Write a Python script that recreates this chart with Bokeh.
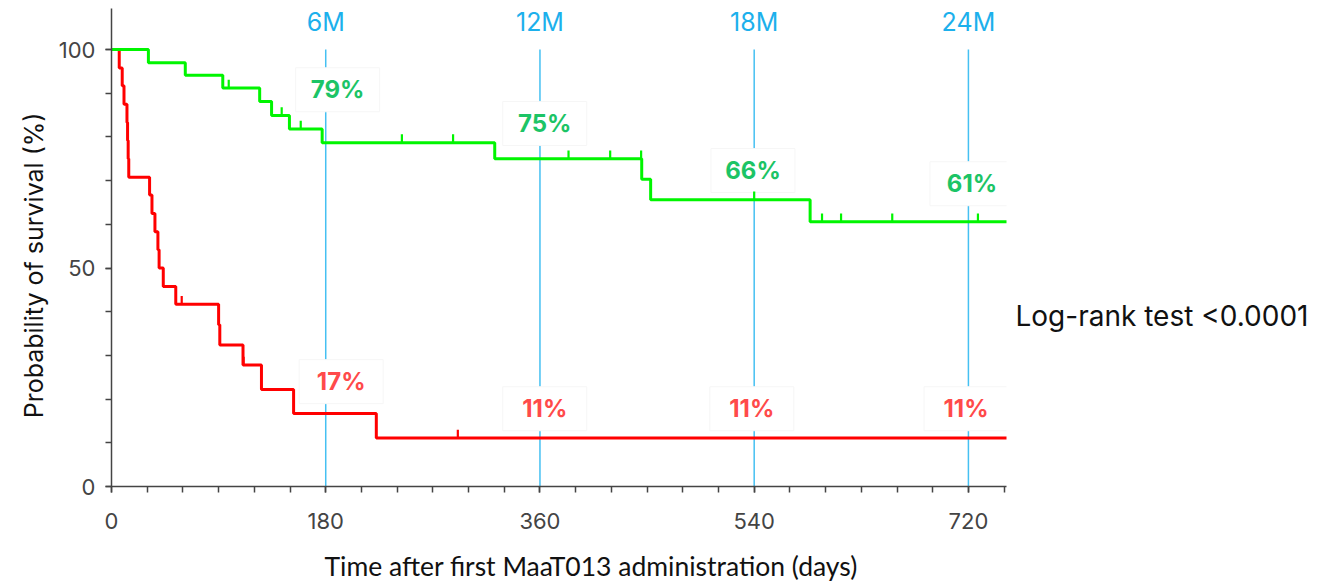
import numpy as np
from bokeh.plotting import figure
from bokeh.layouts import row, column
from bokeh.models import Range1d, FixedTicker
from bokeh.embed import file_html
from bokeh.resources import INLINE
from bokeh.core.properties import value

# ---------------- data ----------------
green_times = [0, 31, 62, 93.5, 124.5, 134.5, 149.5, 177, 322, 445.5, 453, 587]
green_surv = [100, 97.0, 94.1, 91.2, 88.1, 84.9, 81.8, 78.7, 75.0, 70.3, 65.6, 60.6]
green_censor = [98.5, 143, 159, 244, 287, 384, 419, 445, 540, 597, 613, 656, 728]

red_times = [0, 6.5, 9, 10.5, 13, 13.5, 14, 14.5, 32, 34, 36.5, 39, 40, 43.5, 54,
             90, 91, 110.5, 126, 153, 222.5]
red_surv = [100, 95.8, 91.7, 87.5, 83.3, 79.2, 75.0, 70.8, 66.7, 62.5, 58.3, 54.2,
            50.0, 45.8, 41.7, 37.0, 32.4, 27.8, 22.2, 16.7, 11.1]
red_censor = [59, 111, 291]

follow_up_end = 753

milestone_days = [180, 360, 540, 720]
milestone_labels = ["6M", "12M", "18M", "24M"]
green_pct_labels = ["79%", "75%", "66%", "61%"]
red_pct_labels = ["17%", "11%", "11%", "11%"]

x_tick_values = [0, 180, 360, 540, 720]
y_tick_values = [0, 50, 100]

x_title = "Time after first MaaT013 administration (days)"
y_title = "Probability of survival (%)"
logrank_text = "Log-rank test <0.0001"

GREEN = "#00F500"
RED = "#FF0000"
BLUE = "#45C0F2"
GREEN_TXT = "#1CC466"
RED_TXT = "#FF4A4A"

H_MAIN = 542
H_XT = 42
W_YT = 50
W_MAIN = 958
W_SIDE = 308
Y_END = 109.4


def level_at(times, surv, t):
    idx = np.searchsorted(np.array(times), t, side="right") - 1
    return np.array(surv)[idx]


def bare(width, height, xr, yr):
    f = figure(width=width, height=height, output_backend="svg", toolbar_location=None,
               x_range=xr, y_range=yr, min_border=0,
               x_axis_location=None, y_axis_location=None)
    f.grid.visible = False
    f.outline_line_color = None
    return f


p = figure(width=W_MAIN, height=H_MAIN, output_backend="svg", toolbar_location=None,
           x_range=Range1d(0, 752), y_range=Range1d(0, Y_END),
           min_border_left=61, min_border_right=2, min_border_top=8,
           min_border_bottom=56)
p.xgrid.visible = False
p.ygrid.visible = False
p.outline_line_color = None
p.background_fill_color = "white"

# milestone vertical lines
p.segment(x0=milestone_days, y0=[0] * 4, x1=milestone_days, y1=[100] * 4,
          line_color=BLUE, line_width=1.5)

# white boxes behind percentage labels (cut the vertical lines)
g_lab_y = [90.8, 83.1, 72.3, 69.3]
r_lab_y = [24.0, 17.8, 17.8, 17.8]
g_lab_x = [190, 364, 539, 723]
r_lab_x = [193, 364, 538, 718]
p.rect(x=g_lab_x + r_lab_x, y=g_lab_y + r_lab_y, width=84, height=44,
       width_units="screen", height_units="screen",
       fill_color="white", line_color="#F6F6F6", line_width=1)

# survival curves
p.step(x=red_times + [follow_up_end], y=red_surv + [red_surv[-1]], mode="after",
       line_color=RED, line_width=3)
p.step(x=green_times + [follow_up_end], y=green_surv + [green_surv[-1]], mode="after",
       line_color=GREEN, line_width=3)

# censor marks
gl = [level_at(green_times, green_surv, t) for t in green_censor]
rl = [level_at(red_times, red_surv, t) for t in red_censor]
p.segment(x0=green_censor, y0=gl, x1=green_censor, y1=[v + 1.9 for v in gl],
          line_color=GREEN, line_width=2.2)
p.segment(x0=red_censor, y0=rl, x1=red_censor, y1=[v + 1.9 for v in rl],
          line_color=RED, line_width=2.2)

# percentage labels
p.text(x=g_lab_x, y=g_lab_y, text=green_pct_labels, text_font=value("Inter"),
       text_font_style="bold", text_font_size="24px", text_color=GREEN_TXT,
       text_align="center", text_baseline="middle")
p.text(x=r_lab_x, y=r_lab_y, text=red_pct_labels, text_font=value("Inter"),
       text_font_style="bold", text_font_size="24px", text_color=RED_TXT,
       text_align="center", text_baseline="middle")

# milestone labels
p.text(x=milestone_days, y=[106.2] * 4, text=milestone_labels, text_font=value("Inter"),
       text_font_size="25px", text_color="#1CB0EC", text_align="center",
       text_baseline="middle")

# axes
for ax in (p.xaxis[0], p.yaxis[0]):
    ax.axis_line_color = "#444444"
    ax.axis_line_width = 1.5
    ax.major_tick_line_color = "#444444"
    ax.minor_tick_line_color = "#444444"
    ax.major_tick_line_width = 1.5
    ax.minor_tick_line_width = 1.5
    ax.major_tick_out = 6
    ax.major_tick_in = 0
    ax.minor_tick_out = 6
    ax.minor_tick_in = 0
    ax.major_label_text_font = "Inter"
    ax.major_label_text_font_size = "22px"
    ax.major_label_text_color = "#444444"

p.xaxis.ticker = FixedTicker(ticks=x_tick_values, minor_ticks=list(range(0, 751, 30)))
p.yaxis.ticker = FixedTicker(ticks=y_tick_values, minor_ticks=list(range(0, 101, 10)))
p.xaxis.major_label_standoff = 20
p.yaxis.major_label_standoff = 10

# y title panel (frame aligned with main plot)
pyt = bare(W_YT, H_MAIN, Range1d(0, W_YT), Range1d(0, Y_END))
pyt.text(x=[33], y=[50.6], text=[y_title], angle=np.pi / 2, text_font=value("Inter"),
         text_font_size="25px", text_color="#111111", text_align="center",
         text_baseline="middle")

# side panel for log-rank annotation (frame aligned with main plot)
p2 = bare(W_SIDE, H_MAIN, Range1d(0, W_SIDE), Range1d(0, Y_END))
p2.text(x=[7], y=[39.1], text=[logrank_text], text_font=value("Inter"),
        text_font_size="28px", text_color="#111111", text_align="left",
        text_baseline="middle")

# x title strip
W_ALL = W_YT + W_MAIN + W_SIDE
p3 = bare(W_ALL, H_XT, Range1d(0, W_ALL), Range1d(0, H_XT))
p3.text(x=[324], y=[H_XT - 23], text=[x_title], text_font=value("Lato"),
        text_font_size="26.5px", text_color="#111111", text_align="left",
        text_baseline="middle")

layout = column(row(pyt, p, p2), p3)
open("out.html", "w").write(file_html(layout, INLINE))
